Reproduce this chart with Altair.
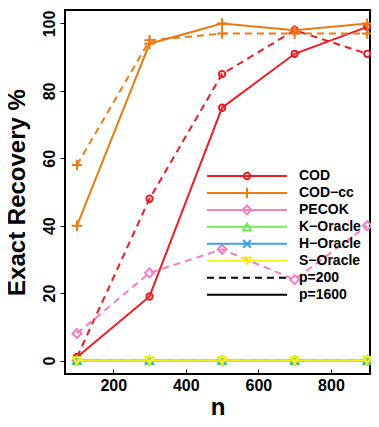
import altair as alt
import pandas as pd

# ---- data ----
n_values = [100, 300, 500, 700, 900]
methods = ["COD", "COD−cc", "PECOK", "K−Oracle", "H−Oracle", "S−Oracle"]
colors = ["#EC1C24", "#EC7A12", "#F47FC0", "#73EA5A", "#3AA2E6", "#F0F020"]
shapes = ["circle", "M-1,0H1M0,-1V1", "diamond", "triangle-up",
          "M-1,-1L1,1M-1,1L1,-1", "triangle-down"]
sizes = [40, 110, 80, 60, 60, 60]
p_labels = ["p=200", "p=1600"]

cod_p200 = [1, 48, 85, 98, 91]
cod_p1600 = [1, 19, 75, 91, 99]
codcc_p200 = [58, 95, 97, 97, 97]
codcc_p1600 = [40, 94, 100, 98, 100]
pecok_p200 = [8, 26, 33, 24, 40]
pecok_p1600 = [0, 0, 0, 0, 0]
koracle_p200 = [0, 0, 0, 0, 0]
koracle_p1600 = [0, 0, 0, 0, 0]
horacle_p200 = [0, 0, 0, 0, 0]
horacle_p1600 = [0, 0, 0, 0, 0]
soracle_p200 = [0, 0, 0, 0, 0]
soracle_p1600 = [0, 0, 0, 0, 0]

series = {
    "COD": (cod_p200, cod_p1600),
    "COD−cc": (codcc_p200, codcc_p1600),
    "PECOK": (pecok_p200, pecok_p1600),
    "K−Oracle": (koracle_p200, koracle_p1600),
    "H−Oracle": (horacle_p200, horacle_p1600),
    "S−Oracle": (soracle_p200, soracle_p1600),
}

FONT = "Liberation Sans"
DASH = [7, 5]
LW = 2

x_enc = alt.X(
    "n:Q",
    scale=alt.Scale(domain=[67, 907.7], nice=False, zero=False),
    axis=alt.Axis(title="n", values=[200, 400, 600, 800], offset=-5,
                  titlePadding=2),
)
y_enc = alt.Y(
    "value:Q",
    scale=alt.Scale(domain=[-4, 104], nice=False, zero=False),
    axis=alt.Axis(title="Exact Recovery %", values=[0, 20, 40, 60, 80, 100],
                  labelAngle=270, labelAlign="center", labelBaseline="bottom",
                  titlePadding=12),
)

layers = []
for m, col, shp, sz in zip(methods, colors, shapes, sizes):
    v200, v1600 = series[m]
    df = pd.DataFrame({
        "n": n_values * 2,
        "value": v200 + v1600,
        "p": ["p=200"] * 5 + ["p=1600"] * 5,
    })
    base = alt.Chart(df)
    layers.append(
        base.transform_filter(alt.datum.p == "p=200")
        .mark_line(color=col, strokeWidth=LW, strokeDash=DASH)
        .encode(x=x_enc, y=y_enc)
    )
    layers.append(
        base.transform_filter(alt.datum.p == "p=1600")
        .mark_line(color=col, strokeWidth=LW)
        .encode(x=x_enc, y=y_enc)
    )
    layers.append(
        base.mark_point(shape=shp, size=sz, filled=False, color=col,
                        strokeWidth=2, opacity=1)
        .encode(x=x_enc, y=y_enc)
    )

# ---- legend (drawn inside the plot, no box) ----
dummy = pd.DataFrame({"a": [0]})
LX0, LX1, LXS, LXT = 142, 222, 182, 234
LY0, LDY = 166, 16.95
legend_rows = list(zip(methods, colors, shapes, sizes))
for i, (m, col, shp, sz) in enumerate(legend_rows):
    yy = LY0 + LDY * i
    layers.append(
        alt.Chart(dummy).mark_rule(color=col, strokeWidth=LW)
        .encode(x=alt.value(LX0), x2=alt.value(LX1), y=alt.value(yy))
    )
    layers.append(
        alt.Chart(dummy).mark_point(shape=shp, size=sz, filled=False, color=col,
                                    strokeWidth=2, opacity=1)
        .encode(x=alt.value(LXS), y=alt.value(yy))
    )
    layers.append(
        alt.Chart(dummy).mark_text(text=m, align="left", baseline="middle",
                                   fontSize=14, fontWeight="bold", font=FONT,
                                   color="black")
        .encode(x=alt.value(LXT), y=alt.value(yy))
    )
for j, pl in enumerate(p_labels):
    yy = LY0 + LDY * (len(methods) + j)
    rule = alt.Chart(dummy).mark_rule(
        color="black", strokeWidth=LW,
        **({"strokeDash": DASH} if pl == "p=200" else {})
    ).encode(x=alt.value(LX0), x2=alt.value(LX1), y=alt.value(yy))
    layers.append(rule)
    layers.append(
        alt.Chart(dummy).mark_text(text=pl, align="left", baseline="middle",
                                   fontSize=14, fontWeight="bold", font=FONT,
                                   color="black")
        .encode(x=alt.value(LXT), y=alt.value(yy))
    )

chart = (
    alt.layer(*layers)
    .properties(width=305, height=364,
                autosize=alt.AutoSizeParams(type="none"),
                padding={"left": 57, "top": 2, "right": 1, "bottom": 45})
    .configure_view(stroke="black", strokeWidth=2)
    .configure_axis(
        domain=False, grid=False, tickColor="black", tickSize=5, tickWidth=1,
        labelFont=FONT, labelFontSize=16, labelFontWeight="bold",
        labelColor="black", labelPadding=3,
        titleFont=FONT, titleFontSize=24, titleFontWeight="bold",
        titleColor="black",
    )
)

chart.save("out.html", embed_options={"renderer": "svg", "actions": False})
